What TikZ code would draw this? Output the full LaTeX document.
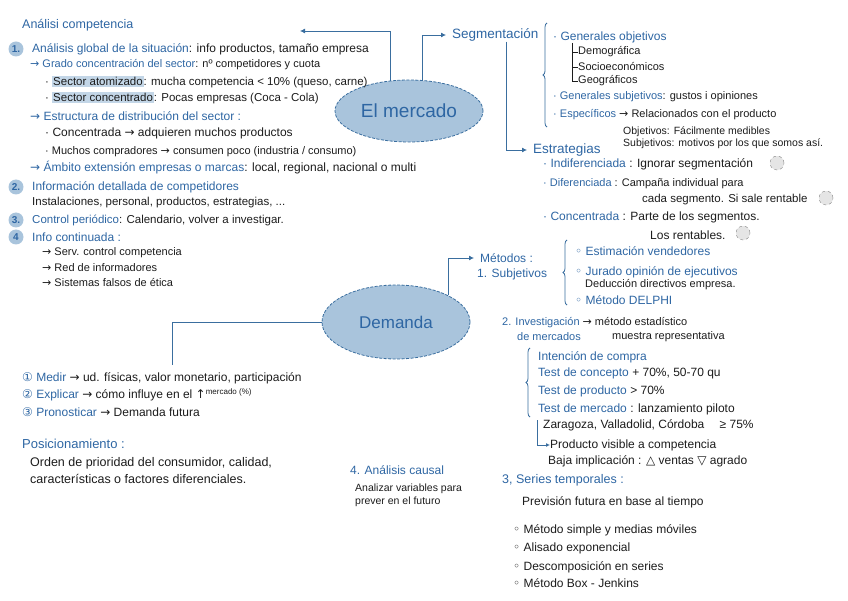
\documentclass[tikz,border=0pt]{standalone}
\usepackage{fontspec}
\setmainfont{Liberation Sans}
\newfontfamily\symf{DejaVu Sans}
\usetikzlibrary{calc, shapes.geometric, arrows.meta, positioning, decorations.pathreplacing}
\definecolor{blu}{HTML}{2E66A3}
\definecolor{lin}{HTML}{3A6E9F}
\definecolor{bub}{HTML}{A9C4DC}
\definecolor{ink}{HTML}{1C1C1C}
\newcommand{\az}[1]{\textcolor{blu}{#1}}
\newcommand{\flecha}{{\symf →}}
\newcommand{\circo}{{\symf ◦}}
\newcommand{\hlt}[1]{{\setlength{\fboxsep}{1pt}\colorbox{bub!70}{#1}}}

\begin{document}
\begin{tikzpicture}[x=1pt,y=-1pt,
  every node/.style={inner sep=0pt,anchor=west,text=ink,font=\fontsize{12}{14}\selectfont},
  bubble/.style={ellipse,draw=lin,dash pattern=on 3pt off 1.5pt,fill=bub,thick,anchor=center,text=blu},
  conn/.style={draw=lin,thick},
  tip/.style={conn,-{Latex[length=5pt,width=5pt]},shorten >=6pt},
  num/.style={circle,fill=bub,anchor=center,minimum size=15pt,text=blu,font=\fontsize{10}{12}\selectfont\bfseries},
  globe/.style={circle,draw=gray,dashed,fill=gray!20,minimum size=14pt,anchor=center},
  brc/.style={conn,decorate,decoration={brace,amplitude=4pt}},
  big/.style={font=\fontsize{13.5}{15}\selectfont},
  mid/.style={font=\fontsize{11}{13}\selectfont},
  sml/.style={font=\fontsize{10.5}{12}\selectfont}]
\useasboundingbox (0,0) rectangle (848,601);

% bubbles
\node[bubble,minimum width=148pt,minimum height=62pt,font=\fontsize{19}{21}\selectfont] (mer) at (409,111) {El mercado};
\node[bubble,minimum width=148pt,minimum height=74pt,font=\fontsize{17}{19}\selectfont] (dem) at (396,322) {Demanda};

% analisis competencia
\node[font=\fontsize{12.5}{14}\selectfont] (ana) at (22,25) {\az{Análisi competencia}};
\node[num] (n1) at (16,49) {1.};
\node (l1) at (32,49) {\az{Análisis global de la situación}: info productos, tamaño empresa};
\node[mid] (l2) at (30,65) {\az{\flecha{} Grado concentración del sector}: nº competidores y cuota};
\node[font=\fontsize{11.5}{13}\selectfont] (l3) at (45,82) {· \hlt{Sector atomizado}: mucha competencia < 10\% (queso, carne)};
\node[font=\fontsize{11.5}{13}\selectfont] (l4) at (45,98) {· \hlt{Sector concentrado}: Pocas empresas (Coca - Cola)};
\node (l5) at (30,116) {\az{\flecha{} Estructura de distribución del sector :}};
\node (l6) at (45,133) {· Concentrada \flecha{} adquieren muchos productos};
\node[mid] (l7) at (45,152) {· Muchos compradores \flecha{} consumen poco (industria / consumo)};
\node (l8) at (30,168) {\az{\flecha{} Ámbito extensión empresas o marcas}: local, regional, nacional o multi};
\node[num] (n2) at (16,187) {2.};
\node (l9) at (32,187) {\az{Información detallada de competidores}};
\node[font=\fontsize{11.5}{13}\selectfont] (l10) at (32,203) {Instalaciones, personal, productos, estrategias, ...};
\node[num] (n3) at (16,220) {3.};
\node[font=\fontsize{11.5}{13}\selectfont] (l11) at (32,220) {\az{Control periódico}: Calendario, volver a investigar.};
\node[num] (n4) at (16,237) {4};
\node (l12) at (32,237) {\az{Info continuada :}};
\node[mid] (l13) at (42,253) {\flecha{} Serv. control competencia};
\node[mid] (l14) at (42,268) {\flecha{} Red de informadores};
\node[mid] (l15) at (42,283) {\flecha{} Sistemas falsos de ética};

% segmentacion
\node[big] (seg) at (452,35) {\az{Segmentación}};
\draw[brc] (547,127) -- (547,23);
\node (r1) at (553,37) {\az{· Generales objetivos}};
\coordinate (tt) at (572,43);
\node[mid] (demog) at (578,52) {Demográfica};
\node[mid] (socio) at (578,67) {Socioeconómicos};
\node[mid] (geog) at (578,81) {Geográficos};
\draw[ink] (tt) |- (geog.west);
\draw[ink] (tt |- demog.west) -- (demog.west);
\draw[ink] (tt |- socio.west) -- (socio.west);
\node[mid] (r2) at (553,97) {\az{· Generales subjetivos}: gustos i opiniones};
\node[mid] (r3) at (553,115) {\az{· Específicos} \flecha{} Relacionados con el producto};
\node[sml] (r4) at (623,132) {Objetivos: Fácilmente medibles};
\node[sml] (r5) at (623,144) {Subjetivos: motivos por los que somos así.};

% estrategias
\node[big] (est) at (533,150) {\az{Estrategias}};
\node (s1) at (543,164) {\az{· Indiferenciada} : Ignorar segmentación};
\node[globe] (g1) at (777,163) {};
\node[mid] (s2) at (543,184) {\az{· Diferenciada} : Campaña individual para};
\node[font=\fontsize{11.5}{13}\selectfont] (s2b) at (642,200) {cada segmento. Si sale rentable};
\node[globe] (g2) at (826,198) {};
\node (s3) at (543,217) {\az{· Concentrada} : Parte de los segmentos.};
\node (s3b) at (650,235) {Los rentables.};
\node[globe] (g3) at (743,233) {};

% metodos
\node (met) at (480,258) {\az{Métodos :}};
\node (m1) at (477,274) {\az{1. Subjetivos}};
\draw[brc] (567,305) -- (567,240);
\node (m2) at (575,251) {\az{\circo{} Estimación vendedores}};
\node (m3) at (575,272) {\az{\circo{} Jurado opinión de ejecutivos}};
\node[mid] (m4) at (585,285) {Deducción directivos empresa.};
\node (m5) at (575,300) {\az{\circo{} Método DELPHI}};
\node[mid] (i1) at (502,323) {\az{2. Investigación} \flecha{} método estadístico};
\node[mid] (i2) at (517,337) {\az{de mercados}};
\node[mid] (i3) at (612,337) {muestra representativa};
\draw[brc] (530,417) -- (530,348);
\node (t1) at (538,357) {\az{Intención de compra}};
\node (t2) at (538,373) {\az{Test de concepto} + 70\%, 50-70 qu};
\node (t3) at (538,391) {\az{Test de producto} > 70\%};
\node (t4) at (538,409) {\az{Test de mercado} : lanzamiento piloto};
\node (t5) at (543,425) {Zaragoza, Valladolid, Córdoba \quad ≥ 75\%};
\node (pv) at (550,445) {Producto visible a competencia};
\coordinate (pvt) at (537,420);
\draw[conn,-{Latex[length=4pt,width=4pt]}] (pvt) |- (pv.west);
\node (t6) at (548,461) {Baja implicación : {\symf △} ventas {\symf ▽} agrado};
\node[font=\fontsize{12.5}{14}\selectfont] (st) at (502,480) {\az{3, Series temporales :}};
\node (st1) at (522,502) {Previsión futura en base al tiempo};
\node (st2) at (513,530) {\circo{} Método simple y medias móviles};
\node (st3) at (513,548) {\circo{} Alisado exponencial};
\node (st4) at (513,567) {\circo{} Descomposición en series};
\node (st5) at (513,583) {\circo{} Método Box - Jenkins};

% medir / posicionamiento
\node (md1) at (22,378) {\az{{\symf ①} Medir} \flecha{} ud. físicas, valor monetario, participación};
\node (md2) at (22,395) {\az{{\symf ②} Explicar} \flecha{} cómo influye en el {\symf ↑}\textsuperscript{mercado (\%)}};
\node (md3) at (22,412) {\az{{\symf ③} Pronosticar} \flecha{} Demanda futura};
\node[font=\fontsize{13}{15}\selectfont] (pos) at (22,444) {\az{Posicionamiento :}};
\node[font=\fontsize{12.5}{14}\selectfont] (p1) at (30,463) {Orden de prioridad del consumidor, calidad,};
\node[font=\fontsize{12.5}{14}\selectfont] (p2) at (30,479) {características o factores diferenciales.};
\node (ac) at (350,470) {\az{4. Análisis causal}};
\node[sml] (ac1) at (355,489) {Analizar variables para};
\node[sml] (ac2) at (355,502) {prever en el futuro};

% connectors
\coordinate (anat) at (300,31);
\draw[tip,shorten >=0pt] (mer.122) |- (anat);
\draw[tip] (mer.67) |- (seg.west);
\draw[tip] ([xshift=11pt]seg.south) |- (est.west);
\draw[tip] (dem.27) |- (met.west);
\coordinate (medt) at (172,365);
\draw[conn] (dem.west) -| (medt);
\end{tikzpicture}
\end{document}
